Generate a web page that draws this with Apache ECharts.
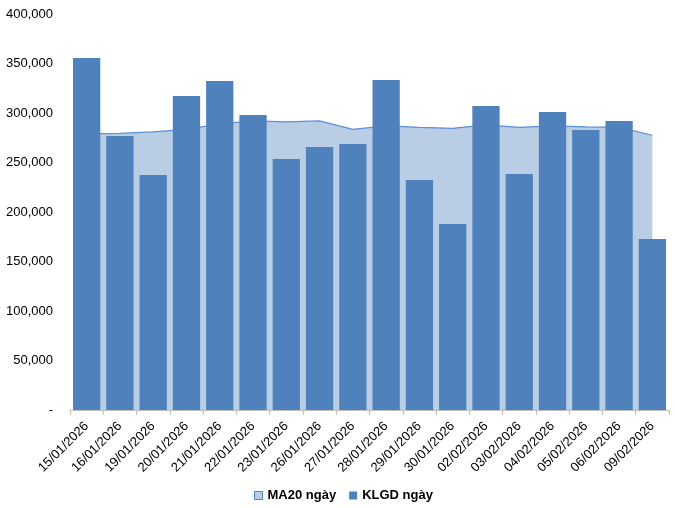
<!DOCTYPE html>
<html><head><meta charset="utf-8">
<script src="https://cdn.jsdelivr.net/npm/echarts@6/dist/echarts.min.js"></script>
<style>html,body{margin:0;padding:0;background:#fff}#c{width:675px;height:508px}</style>
</head><body><div id="c"></div>
<script>
const categories = ["15/01/2026","16/01/2026","19/01/2026","20/01/2026","21/01/2026","22/01/2026","23/01/2026","26/01/2026","27/01/2026","28/01/2026","29/01/2026","30/01/2026","02/02/2026","03/02/2026","04/02/2026","05/02/2026","06/02/2026","09/02/2026"];
const klgd = [355500, 276800, 237400, 317200, 332300, 298000, 253500, 265700, 268700, 333300, 232300, 187900, 307000, 238400, 301000, 282800, 292000, 172700];
const ma20 = [279000, 279500, 281000, 283500, 289000, 292000, 291000, 292000, 283500, 287000, 285500, 284500, 288000, 285500, 287000, 286000, 285500, 277500];
const yTicks = [0, 50000, 100000, 150000, 200000, 250000, 300000, 350000, 400000];

const chart = echarts.init(document.getElementById('c'));
const font = 'Liberation Sans, Arial, sans-serif';
chart.setOption({
  animation: false,
  grid: {left: 70, right: 6, top: 14, bottom: 98, containLabel: false},
  legend: {
    bottom: 1, left: 249, itemWidth: 8, itemHeight: 8, itemGap: 13,
    textStyle: {fontFamily: font, fontSize: 13, fontWeight: 'bold', color: '#000'},
    data: [
      {name: 'MA20 ngày', icon: 'rect', itemStyle: {color: '#B9CDE5', borderColor: '#4F81BD', borderWidth: 1}},
      {name: 'KLGD ngày', icon: 'rect', itemStyle: {color: '#4F81BD'}}
    ]
  },
  xAxis: {
    type: 'category', data: categories, boundaryGap: true,
    axisLine: {lineStyle: {color: '#BFBFBF', width: 1}},
    axisTick: {show: true, alignWithLabel: false, length: 5, lineStyle: {color: '#BFBFBF'}},
    axisLabel: {rotate: 45, interval: 0, fontFamily: font, fontSize: 13, color: '#000', margin: 14}
  },
  yAxis: {
    type: 'value', min: yTicks[0], max: yTicks[yTicks.length - 1], interval: 50000,
    axisLine: {show: false}, axisTick: {show: false}, splitLine: {show: false},
    axisLabel: {fontFamily: font, fontSize: 13, color: '#000', margin: 17,
      formatter: v => v === 0 ? '-' : v.toLocaleString('en-US')}
  },
  series: [
    {name: 'MA20 ngày', type: 'line', data: ma20, symbol: 'none', smooth: false, z: 1,
      lineStyle: {color: '#5B8FD6', width: 1.2},
      itemStyle: {color: '#B9CDE5'},
      areaStyle: {color: '#B9CDE5', opacity: 1}},
    {name: 'KLGD ngày', type: 'bar', data: klgd, barCategoryGap: '18%', z: 3,
      itemStyle: {color: '#4F81BD'}}
  ]
});
</script></body></html>
